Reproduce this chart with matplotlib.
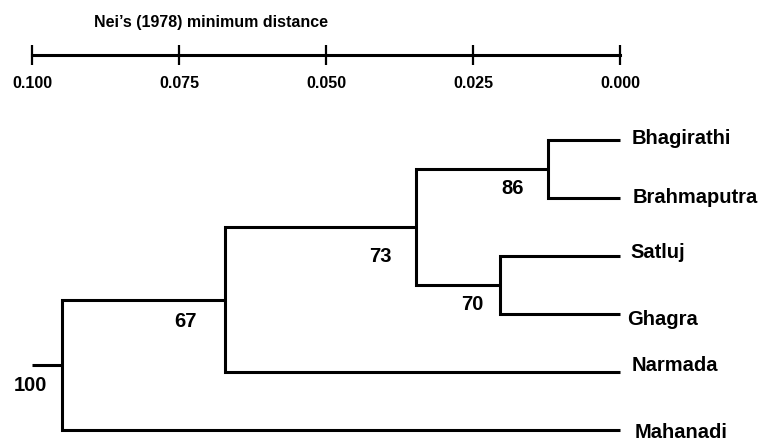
import matplotlib
matplotlib.use('Agg')
import matplotlib.pyplot as plt

# ---------------- data ----------------
leaves = ['Bhagirathi', 'Brahmaputra', 'Satluj', 'Ghagra', 'Narmada', 'Mahanadi']
# merges: ids < 6 are leaves, ids >= 6 are earlier merges (in order)
merge_a = [0, 2, 6, 8, 9]
merge_b = [1, 3, 7, 4, 5]
merge_dist = [0.0122, 0.0204, 0.0347, 0.0672, 0.0949]
bootstrap = [86, 70, 73, 67, 100]
root_stub_end = 0.100
scale_ticks = [0.100, 0.075, 0.050, 0.025, 0.000]
scale_title = "Nei\u2019s (1978) minimum distance"

# ---------------- layout (pixels) ----------------
W, H = 762, 442
leaf_label_dx = [12, 13, 10, 7, 12, 15]        # px right of leaf tip
leaf_label_dy = [4, 5, 2, 11, -1, 8]           # baseline px below leaf line
boot_dx = [-36, -28, -36, -39, -32]            # label centre relative to node
boot_dy = [19, 20, 30, 22, 21]
LW = 2.2

plt.rcParams['font.family'] = ['Liberation Sans', 'DejaVu Sans']
plt.rcParams['font.weight'] = 'bold'

fig = plt.figure(figsize=(W / 100, H / 100), dpi=100)
ax = fig.add_axes([0, 0, 1, 1])
ax.axis('off')
# x: 0.100 -> 32 px, 0.000 -> 620 px ; y: leaf i -> 140 + 58 i px
ppu = 5880.0
ax.set_xlim(0.1 + 32 / ppu, 0.1 - (W - 32) / ppu)
ax.set_ylim((H - 140) / 58.0, -140 / 58.0)

pos = {i: (0.0, float(i)) for i in range(len(leaves))}
px2pt = 0.72
for k, (a, b, d) in enumerate(zip(merge_a, merge_b, merge_dist)):
    xa, ya = pos[a]
    xb, yb = pos[b]
    ax.plot([xa, d, d, xb], [ya, ya, yb, yb], color='black', lw=LW,
            solid_joinstyle='miter', solid_capstyle='butt')
    ym = (ya + yb) / 2
    pos[len(leaves) + k] = (d, ym)
    ax.annotate(str(bootstrap[k]), (d, ym),
                xytext=(boot_dx[k] * px2pt, -boot_dy[k] * px2pt),
                textcoords='offset points', ha='center', va='center',
                fontsize=14.5, fontweight='bold')

rx, ry = pos[len(leaves) + len(merge_dist) - 1]
ax.plot([rx, root_stub_end], [ry, ry], color='black', lw=LW, solid_capstyle='butt')

for i, name in enumerate(leaves):
    ax.annotate(name, (0.0, i), xytext=(leaf_label_dx[i] * px2pt, -leaf_label_dy[i] * px2pt),
                textcoords='offset points', ha='left', va='baseline',
                fontsize=14.5, fontweight='bold')

# ---------------- scale bar ----------------
bar_y = 55
axs = fig.add_axes([0, 1 - bar_y / H, 1, 0.05])
axs.set_xlim(ax.get_xlim())
axs.patch.set_visible(False)
for s in ['top', 'left', 'right']:
    axs.spines[s].set_visible(False)
axs.spines['bottom'].set_linewidth(LW)
axs.spines['bottom'].set_bounds(min(scale_ticks), max(scale_ticks))
axs.set_yticks([])
axs.set_xticks(scale_ticks)
axs.set_xticklabels(['%.3f' % t for t in scale_ticks], fontsize=11.5, fontweight='bold')
axs.tick_params(axis='x', direction='inout', length=14.4, width=1.6, pad=8.0)

fig.text(211 / W, 1 - 27 / H, scale_title, ha='center', va='baseline',
         fontsize=11.5, fontweight='bold')

fig.savefig('out.png', dpi=100)
